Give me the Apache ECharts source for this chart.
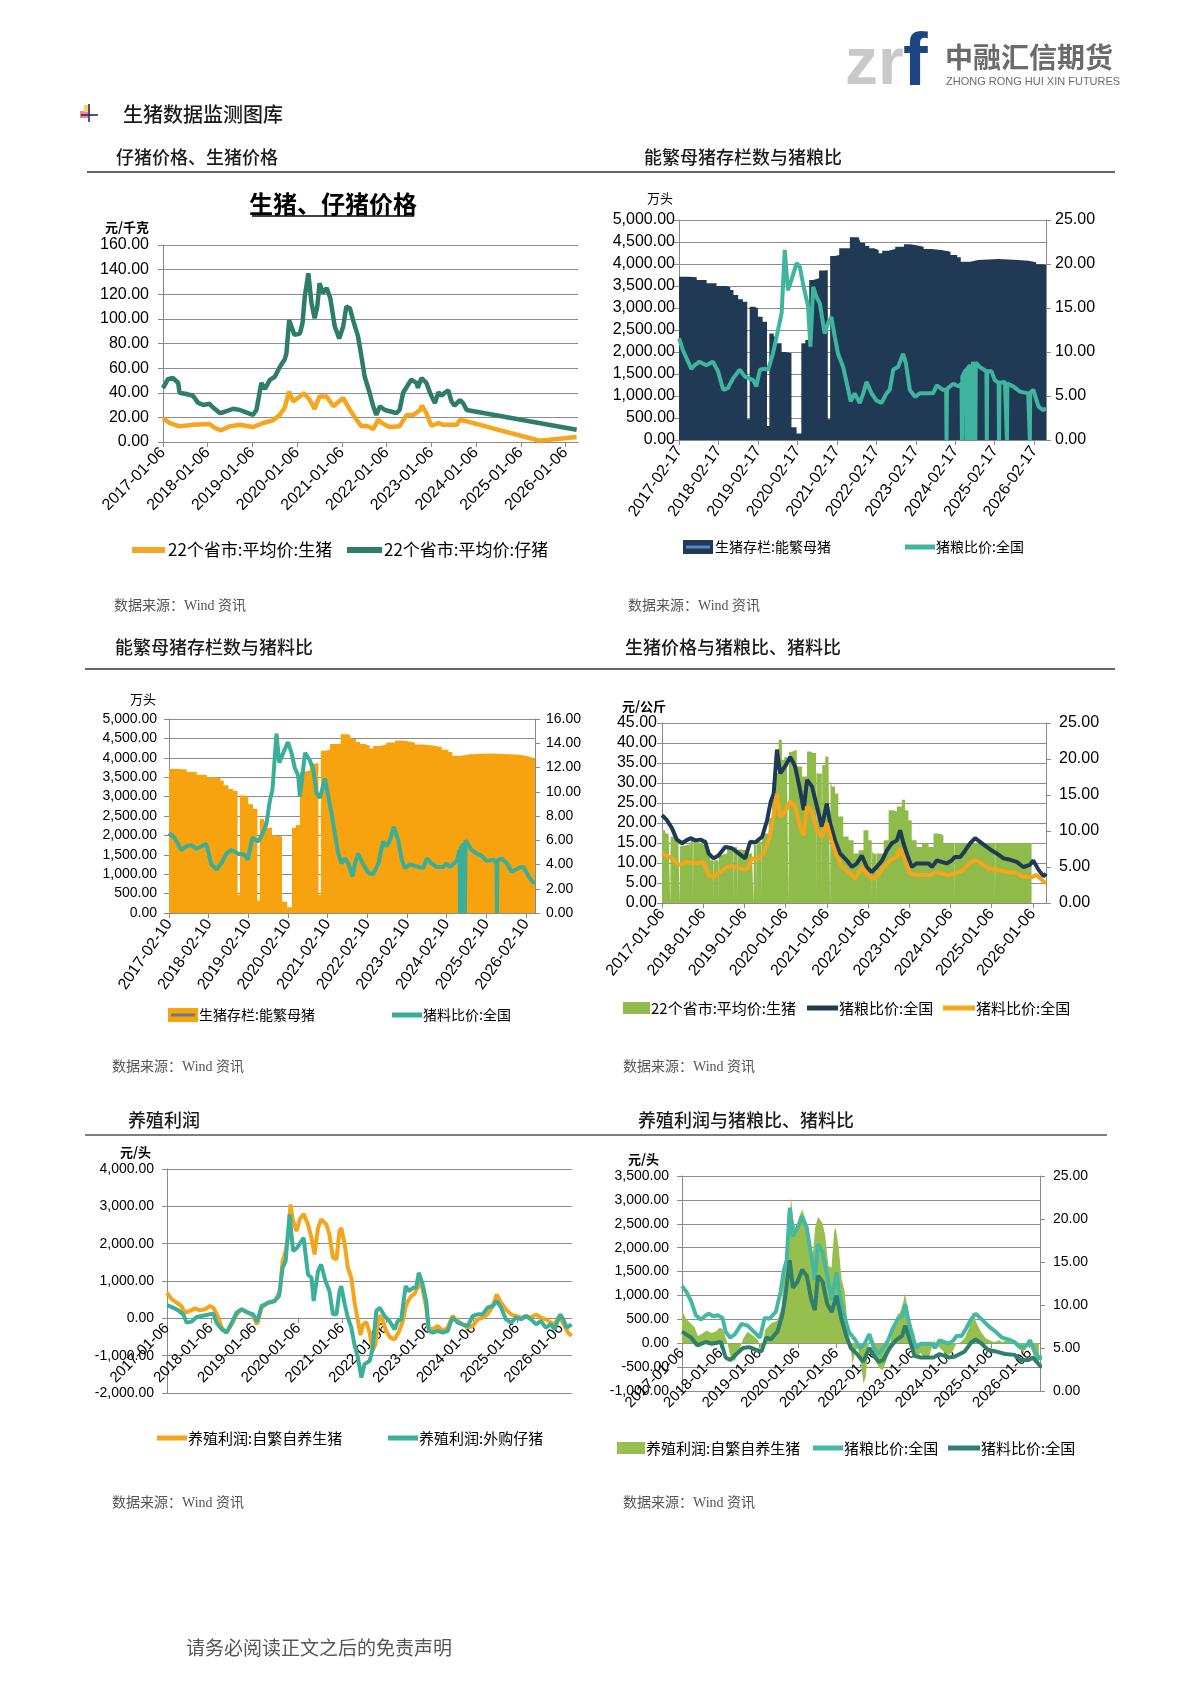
<!DOCTYPE html>
<html><head><meta charset="utf-8">
<script src="https://cdn.jsdelivr.net/npm/echarts@6/dist/echarts.min.js"></script>
<style>html,body{margin:0;padding:0;background:#fff}#c{width:1190px;height:1683px}</style>
</head><body><div id="c"></div>
<script>
// ---------- tick labels ----------
const tickYears = [2017,2018,2019,2020,2021,2022,2023,2024,2025,2026];
const ticksJan06 = ['2017-01-06','2018-01-06','2019-01-06','2020-01-06','2021-01-06','2022-01-06','2023-01-06','2024-01-06','2025-01-06','2026-01-06'];
const ticksFeb17 = ['2017-02-17','2018-02-17','2019-02-17','2020-02-17','2021-02-17','2022-02-17','2023-02-17','2024-02-17','2025-02-17','2026-02-17'];
const ticksFeb10 = ['2017-02-10','2018-02-10','2019-02-10','2020-02-10','2021-02-10','2022-02-10','2023-02-10','2024-02-10','2025-02-10','2026-02-10'];

// ---------- data: [years since first tick (2017 = first tick), value] ----------
const c1Hog = [[2017.0,19.5],[2017.15,15.4],[2017.37,12.7],[2017.67,14],[2018.04,14.6],[2018.16,11.4],[2018.3,9.5],[2018.49,12.7],[2018.72,14],[2019.01,12.2],[2019.24,15.4],[2019.46,17.6],[2019.61,22],[2019.72,27.6],[2019.82,41],[2019.91,33],[2020.06,37],[2020.15,39.7],[2020.28,34.3],[2020.39,26.8],[2020.5,37],[2020.66,37],[2020.81,29],[2021.03,35.7],[2021.18,26],[2021.33,18],[2021.44,12.7],[2021.55,13.2],[2021.7,10.5],[2021.81,18],[2021.92,14.9],[2022.07,12.2],[2022.29,12.7],[2022.45,22],[2022.6,22],[2022.75,26],[2022.79,29.5],[2022.89,23.5],[2023.0,13.2],[2023.16,15.4],[2023.27,14],[2023.57,14],[2023.64,18],[2023.79,16.8],[2025.42,1],[2026.25,4]];
const c1Piglet = [[2017.0,43.8],[2017.11,51],[2017.22,52],[2017.34,48],[2017.37,40],[2017.52,39],[2017.67,37.6],[2017.78,32],[2017.9,30],[2018.04,31],[2018.12,28],[2018.27,23.5],[2018.34,24],[2018.57,27],[2018.72,26],[2018.86,24],[2019.01,22],[2019.09,26],[2019.2,48],[2019.28,43],[2019.39,50.5],[2019.5,53],[2019.61,61],[2019.72,67],[2019.76,72],[2019.82,99],[2019.87,94],[2019.94,87],[2020.06,88],[2020.12,96.5],[2020.17,118],[2020.25,137],[2020.32,113],[2020.39,100.5],[2020.45,110],[2020.5,129],[2020.58,121],[2020.66,125],[2020.74,117],[2020.84,94],[2020.94,84],[2021.03,94],[2021.1,110],[2021.18,108.6],[2021.25,99],[2021.36,86],[2021.44,69],[2021.51,53],[2021.62,40],[2021.7,29],[2021.77,22],[2021.85,29],[2021.96,26],[2022.07,25],[2022.22,23.5],[2022.29,26],[2022.37,40],[2022.48,46.5],[2022.55,50.5],[2022.67,48],[2022.7,44],[2022.78,52],[2022.89,48],[2022.97,40],[2023.08,31.6],[2023.16,40.5],[2023.23,37.6],[2023.3,40],[2023.38,42],[2023.45,33],[2023.52,29.5],[2023.64,34],[2023.71,31.6],[2023.79,26],[2026.25,10]];

const sows = [[2017.0,3712],[2017.25,3697],[2017.45,3636],[2017.7,3560],[2017.95,3500],[2018.2,3470],[2018.3,3410],[2018.38,3295],[2018.5,3197],[2018.62,3144],[2018.73,470],[2018.79,3030],[2018.92,2990],[2019.0,2800],[2019.12,2690],[2019.23,318],[2019.29,2420],[2019.4,2350],[2019.48,2200],[2019.6,2000],[2019.7,1970],[2019.85,290],[2019.98,150],[2020.1,2200],[2020.2,2270],[2020.3,3636],[2020.4,3675],[2020.55,3850],[2020.66,3860],[2020.77,470],[2020.83,4180],[2020.95,4205],[2021.06,4356],[2021.33,4606],[2021.55,4583],[2021.6,4485],[2021.72,4410],[2021.82,4356],[2021.94,4318],[2022.06,4242],[2022.15,4303],[2022.3,4341],[2022.48,4394],[2022.7,4447],[2022.86,4432],[2022.98,4394],[2023.2,4341],[2023.4,4318],[2023.65,4280],[2023.88,4205],[2024.05,4152],[2024.14,4053],[2024.38,4091],[2024.58,4114],[2025.1,4091],[2025.6,4076],[2025.85,4038],[2026.05,3992],[2026.2,3977],[2026.32,3977]];

const c2Grain = [[2017.0,11.55],[2017.1,10.2],[2017.23,8.9],[2017.31,8.1],[2017.4,8.5],[2017.52,8.9],[2017.69,8.5],[2017.86,8.9],[2017.99,7.8],[2018.12,5.7],[2018.24,5.9],[2018.37,7.0],[2018.54,8.0],[2018.67,7.2],[2018.88,6.8],[2018.96,6.1],[2019.05,8.0],[2019.17,8.1],[2019.26,8.0],[2019.38,9.8],[2019.51,12.5],[2019.6,14.4],[2019.68,21.6],[2019.76,17.0],[2019.85,18.2],[2019.98,20.1],[2020.06,19.7],[2020.16,17.4],[2020.27,15.2],[2020.33,10.6],[2020.4,17.4],[2020.48,16.3],[2020.57,15.5],[2020.69,12.1],[2020.78,13.3],[2020.86,14.0],[2020.95,11.7],[2021.03,9.8],[2021.16,8.3],[2021.29,5.7],[2021.35,4.4],[2021.45,5.3],[2021.58,4.2],[2021.67,5.3],[2021.75,6.6],[2021.88,5.3],[2022.0,4.5],[2022.13,4.2],[2022.26,5.3],[2022.34,5.7],[2022.43,8.0],[2022.55,8.3],[2022.68,9.8],[2022.75,8.7],[2022.85,5.7],[2022.98,4.9],[2023.1,5.3],[2023.44,5.3],[2023.53,6.2],[2023.69,5.7],[2023.77,5.7],[2023.78,0],[2023.79,5.8],[2023.95,6.4],[2024.08,6.1],[2024.16,6.4],[2024.17,0],[2024.18,7.2],[2024.27,8.0],[2024.28,0],[2024.29,8.0],[2024.36,8.4],[2024.37,0],[2024.38,8.6],[2024.43,8.8],[2024.44,0],[2024.45,8.9],[2024.5,8.9],[2024.51,0],[2024.52,8.8],[2024.62,8.3],[2024.79,7.8],[2024.8,0],[2024.81,7.8],[2024.92,7.8],[2025.0,6.8],[2025.1,6.5],[2025.11,0],[2025.12,6.5],[2025.26,6.6],[2025.3,6.5],[2025.31,0],[2025.32,6.4],[2025.47,6.1],[2025.64,5.5],[2025.85,5.3],[2025.88,5.3],[2025.89,0],[2025.9,5.4],[2025.98,5.7],[2026.11,3.8],[2026.23,3.4],[2026.3,3.6]];

const c3Feed = [[2017.0,6.6],[2017.14,6.2],[2017.31,5.2],[2017.44,5.5],[2017.56,5.6],[2017.69,5.3],[2017.82,5.5],[2017.94,5.7],[2018.07,4.0],[2018.2,3.6],[2018.32,4.1],[2018.45,4.9],[2018.57,5.2],[2018.74,4.9],[2018.91,4.8],[2018.99,4.4],[2019.1,6.2],[2019.25,5.9],[2019.37,6.6],[2019.46,7.4],[2019.54,9.2],[2019.61,10.2],[2019.71,14.8],[2019.78,12.4],[2019.88,13.2],[2020.0,14.1],[2020.09,13.2],[2020.17,12.0],[2020.26,11.3],[2020.3,9.6],[2020.37,11.5],[2020.43,13.2],[2020.55,12.6],[2020.64,11.8],[2020.72,9.9],[2020.81,9.5],[2020.93,11.1],[2021.02,9.6],[2021.1,8.2],[2021.18,6.6],[2021.27,4.9],[2021.35,4.1],[2021.44,4.5],[2021.52,4.1],[2021.63,3.0],[2021.69,4.1],[2021.77,4.9],[2021.9,4.0],[2022.03,3.3],[2022.15,3.2],[2022.28,4.1],[2022.4,5.9],[2022.49,5.5],[2022.57,6.0],[2022.67,7.1],[2022.78,6.0],[2022.87,4.4],[2022.95,3.7],[2023.08,4.0],[2023.41,3.7],[2023.5,4.5],[2023.62,4.1],[2023.75,3.8],[2023.92,3.8],[2023.99,4.1],[2024.08,3.8],[2024.26,4.3],[2024.33,5.2],[2024.34,0],[2024.36,5.5],[2024.38,0],[2024.4,5.7],[2024.42,0],[2024.44,5.8],[2024.46,0],[2024.48,6.0],[2024.51,6.0],[2024.63,5.2],[2024.76,4.9],[2024.89,4.7],[2025.01,4.3],[2025.18,4.4],[2025.26,4.1],[2025.27,0],[2025.28,4.3],[2025.39,4.5],[2025.52,4.1],[2025.64,3.4],[2025.81,3.7],[2025.94,3.8],[2026.07,3.0],[2026.19,2.5],[2026.23,2.6]];

const c4Hog = [[2017.0,18.2],[2017.08,17.4],[2017.16,17],[2017.2,0],[2017.21,16.6],[2017.28,16.1],[2017.4,14],[2017.43,0],[2017.44,14.3],[2017.53,14.7],[2017.69,15.7],[2017.75,0],[2017.76,15.4],[2017.85,15],[2017.93,15.3],[2018.0,14.5],[2018.09,13.2],[2018.17,10.7],[2018.25,0],[2018.26,10.7],[2018.29,10.7],[2018.37,0],[2018.38,12],[2018.45,12.4],[2018.58,13.6],[2018.74,0],[2018.75,14],[2018.82,0],[2018.83,13.4],[2018.9,13.2],[2019.06,12.4],[2019.18,14],[2019.22,0],[2019.23,14.5],[2019.29,0],[2019.3,15.3],[2019.42,0],[2019.43,16.5],[2019.47,17.4],[2019.59,21.2],[2019.67,25.8],[2019.75,32.4],[2019.83,40.8],[2019.91,35.8],[2019.97,36.5],[2020.03,37.5],[2020.07,0],[2020.08,37.8],[2020.15,38.3],[2020.27,34.1],[2020.4,31.6],[2020.52,37.9],[2020.6,37.5],[2020.68,37.5],[2020.74,0],[2020.75,33],[2020.76,32.4],[2020.88,0],[2020.89,34.5],[2020.96,36.6],[2021.04,36.6],[2021.08,0],[2021.09,31],[2021.12,29.1],[2021.2,27.4],[2021.28,21.6],[2021.4,16.6],[2021.53,15.7],[2021.65,12.4],[2021.77,13.2],[2021.89,18.2],[2022.01,15.7],[2022.09,0],[2022.1,13],[2022.13,12.4],[2022.2,0],[2022.21,12.4],[2022.25,12.4],[2022.38,15.7],[2022.5,23.2],[2022.62,22.8],[2022.7,24.1],[2022.82,25.8],[2022.9,23.2],[2022.98,20.7],[2023.06,15.7],[2023.18,14],[2023.31,14.9],[2023.47,14],[2023.59,17.4],[2023.71,17],[2023.83,14.9],[2024.0,15],[2024.1,0],[2024.11,15],[2025.08,0],[2025.09,15],[2025.97,0]];

const grainRatio = [[2017.0,12.2],[2017.12,11.5],[2017.24,10.4],[2017.36,8.8],[2017.49,8.3],[2017.59,8.7],[2017.69,9.0],[2017.81,8.7],[2017.93,8.8],[2018.05,8.5],[2018.13,6.9],[2018.25,6.2],[2018.37,6.6],[2018.54,7.8],[2018.7,7.6],[2018.86,6.9],[2019.02,6.2],[2019.14,8.5],[2019.26,8.4],[2019.43,9.2],[2019.55,11.5],[2019.64,14.1],[2019.71,15.2],[2019.79,21.3],[2019.87,18.0],[2019.99,19.0],[2020.11,20.3],[2020.23,19.0],[2020.35,15.7],[2020.44,12.9],[2020.52,17.1],[2020.64,16.2],[2020.76,13.4],[2020.88,10.6],[2021.0,13.8],[2021.08,11.1],[2021.2,8.7],[2021.32,6.9],[2021.49,5.9],[2021.61,5.0],[2021.73,5.5],[2021.85,6.6],[2021.97,5.0],[2022.09,4.3],[2022.21,5.0],[2022.34,5.9],[2022.46,7.3],[2022.58,8.3],[2022.7,8.7],[2022.78,10.1],[2022.86,8.3],[2022.94,6.9],[2023.06,5.0],[2023.18,5.5],[2023.47,5.5],[2023.55,5.0],[2023.67,5.9],[2023.91,5.5],[2024.03,5.9],[2024.11,6.4],[2024.24,6.4],[2024.36,7.3],[2024.48,8.3],[2024.6,9.0],[2024.72,8.5],[2024.88,7.8],[2025.0,7.3],[2025.12,6.9],[2025.29,6.2],[2025.45,6.0],[2025.61,5.7],[2025.77,5.0],[2025.93,5.3],[2026.01,5.9],[2026.14,4.6],[2026.26,3.7],[2026.32,4.1]];

const feedRatio = [[2017.0,6.9],[2017.24,6.2],[2017.4,5.3],[2017.61,5.7],[2017.77,5.5],[2018.01,5.7],[2018.13,3.9],[2018.25,3.6],[2018.41,4.3],[2018.58,5.0],[2018.74,5.1],[2018.9,4.8],[2019.06,4.6],[2019.18,6.2],[2019.3,6.0],[2019.47,6.9],[2019.59,8.7],[2019.67,10.8],[2019.79,15.2],[2019.87,12.0],[2019.99,12.7],[2020.11,14.1],[2020.23,13.4],[2020.35,10.6],[2020.44,9.4],[2020.52,13.4],[2020.64,12.7],[2020.76,10.1],[2020.88,9.2],[2021.0,11.1],[2021.12,8.5],[2021.24,6.6],[2021.37,5.0],[2021.53,4.3],[2021.69,3.4],[2021.85,5.0],[2021.97,4.1],[2022.09,3.4],[2022.21,3.6],[2022.38,5.0],[2022.54,5.9],[2022.7,6.4],[2022.78,7.6],[2022.9,5.9],[2023.02,4.1],[2023.18,3.9],[2023.51,3.9],[2023.67,4.3],[2023.91,3.9],[2024.07,4.0],[2024.32,4.6],[2024.48,5.6],[2024.6,6.0],[2024.76,5.5],[2024.92,4.8],[2025.12,4.6],[2025.37,4.3],[2025.61,4.2],[2025.77,3.6],[2025.97,3.6],[2026.09,3.9],[2026.22,3.2],[2026.32,2.7]];

const profitSelf = [[2017.0,686],[2017.11,508],[2017.22,419],[2017.33,330],[2017.41,152],[2017.52,196],[2017.64,267],[2017.75,214],[2017.87,241],[2017.98,330],[2018.06,285],[2018.17,18],[2018.25,-250],[2018.36,-383],[2018.48,-160],[2018.59,107],[2018.7,241],[2018.85,152],[2018.97,62],[2019.06,-160],[2019.16,285],[2019.31,419],[2019.46,463],[2019.58,731],[2019.64,1533],[2019.71,1800],[2019.77,2246],[2019.82,3048],[2019.88,2602],[2019.96,2335],[2020.03,2647],[2020.12,2799],[2020.22,2513],[2020.3,2157],[2020.37,1711],[2020.45,2424],[2020.52,2647],[2020.64,2513],[2020.71,2246],[2020.79,1622],[2020.87,1578],[2020.94,2335],[2020.98,2424],[2021.06,1979],[2021.13,1355],[2021.21,1087],[2021.28,463],[2021.36,-71],[2021.42,-450],[2021.47,-180],[2021.55,-100],[2021.62,-350],[2021.7,-850],[2021.76,-700],[2021.8,-300],[2021.85,80],[2021.93,-50],[2022.0,-330],[2022.1,-520],[2022.2,-560],[2022.3,-350],[2022.38,-100],[2022.45,300],[2022.5,450],[2022.58,600],[2022.65,650],[2022.73,850],[2022.77,1050],[2022.84,750],[2022.92,300],[2022.97,-250],[2023.07,-294],[2023.18,-205],[2023.3,-339],[2023.41,-250],[2023.52,62],[2023.64,-71],[2023.75,-160],[2023.87,-250],[2023.98,-205],[2024.1,-27],[2024.21,18],[2024.32,107],[2024.44,330],[2024.53,642],[2024.63,419],[2024.74,241],[2024.86,107],[2024.97,62],[2025.09,18],[2025.2,62],[2025.31,18],[2025.43,107],[2025.54,18],[2025.65,-27],[2025.77,-116],[2025.85,-205],[2025.92,18],[2026.0,-27],[2026.08,-205],[2026.16,-383],[2026.24,-472]];

const profitBuy = [[2017.0,356],[2017.14,285],[2017.26,214],[2017.37,107],[2017.45,-116],[2017.56,-89],[2017.68,36],[2017.79,62],[2017.9,89],[2017.98,107],[2018.06,125],[2018.13,-116],[2018.25,-294],[2018.36,-383],[2018.48,-116],[2018.59,152],[2018.7,241],[2018.85,152],[2018.97,107],[2019.06,-89],[2019.16,330],[2019.31,419],[2019.46,463],[2019.56,597],[2019.64,1355],[2019.71,1533],[2019.8,2781],[2019.88,1800],[2019.97,1889],[2020.07,2068],[2020.12,2157],[2020.22,1176],[2020.3,1087],[2020.35,463],[2020.45,1266],[2020.52,1444],[2020.62,998],[2020.71,731],[2020.79,107],[2020.87,107],[2020.94,731],[2020.98,865],[2021.06,374],[2021.13,18],[2021.21,-250],[2021.28,-695],[2021.36,-1052],[2021.44,-1586],[2021.51,-1230],[2021.63,-1141],[2021.7,-784],[2021.78,196],[2021.86,285],[2021.97,62],[2022.08,-71],[2022.2,-294],[2022.27,-71],[2022.35,-27],[2022.45,865],[2022.52,731],[2022.62,820],[2022.69,820],[2022.75,1221],[2022.84,909],[2022.92,463],[2022.98,-339],[2023.07,-383],[2023.18,-339],[2023.3,-383],[2023.41,-339],[2023.52,18],[2023.64,-116],[2023.75,-160],[2023.87,-205],[2023.98,62],[2024.1,107],[2024.21,107],[2024.32,285],[2024.44,330],[2024.53,463],[2024.63,285],[2024.74,-27],[2024.86,-116],[2024.97,18],[2025.09,-27],[2025.2,62],[2025.31,-27],[2025.43,-160],[2025.54,-71],[2025.65,-250],[2025.77,-160],[2025.85,-294],[2025.98,107],[2026.05,-27],[2026.13,-250],[2026.24,-160]];

// ---------- helpers ----------
const NUM_FONT = "'Liberation Sans', Arial, sans-serif";
const CJK_FONT = "'Noto Sans CJK SC', 'Noto Sans', sans-serif";
const SRC_FONT = "'Liberation Serif', 'Noto Sans CJK SC', serif";
const fmt2 = v => Number(v).toLocaleString('en-US', {minimumFractionDigits: 2, maximumFractionDigits: 2});
const AX = '#8a8a8a';

function xAx(grid, labels, max, rot, fs, opts) {
  opts = opts || {};
  return {
    type: 'value', gridIndex: grid, min: 2017, max: max, interval: 1,
    axisLine: {show: opts.line !== false, onZero: false, lineStyle: {color: AX, width: 1}},
    axisTick: {show: opts.labels !== false, length: 5, customValues: tickYears, lineStyle: {color: AX}},
    axisLabel: {
      show: opts.labels !== false,
      customValues: tickYears, rotate: rot, fontSize: fs, color: '#000', fontFamily: NUM_FONT, margin: 8,
      formatter: v => { const r = Math.round(v); return Math.abs(v - r) < 1e-6 && labels[r - 2017] ? labels[r - 2017] : ''; }
    },
    splitLine: {show: false}
  };
}
function yAx(grid, min, max, interval, fs, pos, split, margin) {
  return {
    type: 'value', gridIndex: grid, min: min, max: max, interval: interval, position: pos,
    axisLine: {show: true, onZero: false, lineStyle: {color: AX}},
    axisTick: {show: true, length: 5, lineStyle: {color: AX}},
    axisLabel: {fontSize: fs, color: '#000', fontFamily: NUM_FONT, margin: margin, formatter: fmt2},
    splitLine: {show: split, lineStyle: {color: '#8c8c8c', width: 1}}
  };
}
function hiddenY(grid) {
  return {type: 'value', gridIndex: grid, min: 0, max: 1, show: false};
}
function lineS(name, data, xi, yi, color, w, z) {
  return {type: 'line', name, data, xAxisIndex: xi, yAxisIndex: yi, showSymbol: false, symbol: 'none',
    lineStyle: {color, width: w}, itemStyle: {color}, z: z || 3, silent: true};
}
function areaS(name, data, xi, yi, color, step) {
  return {type: 'line', name, data, xAxisIndex: xi, yAxisIndex: yi, showSymbol: false, symbol: 'none', step: step,
    lineStyle: {width: 0, color}, itemStyle: {color}, areaStyle: {color, opacity: 1}, z: 2, silent: true};
}
function T(text, x, y, size, opts) {
  opts = opts || {};
  return {type: 'text', x, y, silent: true, z: 100, style: {
    text, fill: opts.color || '#1a1a1a', fontSize: size, fontFamily: opts.font || CJK_FONT,
    fontWeight: opts.weight || 'normal', align: opts.align || 'left', verticalAlign: 'middle'}};
}
function L(x1, y1, x2, y2, color, w) {
  return {type: 'line', silent: true, z: 100, shape: {x1, y1, x2, y2}, style: {stroke: color, lineWidth: w}};
}
function R(x, y, w, h, color) {
  return {type: 'rect', silent: true, z: 100, shape: {x, y, width: w, height: h}, style: {fill: color}};
}

// ---------- colours ----------
const C = {
  orange1: '#F5A51E', green1: '#2E7D6B',
  navy: '#203A55', teal2: '#3FB59F',
  orange3: '#F6A30F', teal3: '#39AE98',
  olive: '#8FBB4B', orange4: '#F8A41A',
  orange5: '#F5A51B', teal5: '#3BAF99',
  olive6: '#96BF4D', teal6: '#44B8A2', dgreen6: '#2E7F6C'
};
const SEC = {weight: 500, color: '#1a1a1a'};
const LEG = {color: '#000'};
const SRC = {color: '#555', font: SRC_FONT};

const graphics = [
  // logo
  T('zr', 845, 66, 66, {font: NUM_FONT, weight: 'bold', color: '#C9C9C9'}),
  T('f', 903, 65, 74, {font: NUM_FONT, weight: 'bold', color: '#1D4584'}),
  T('中融汇信期货', 945, 57, 28, {weight: 'bold', color: '#6B6B6B'}),
  T('ZHONG RONG HUI XIN FUTURES', 946, 82, 11, {font: NUM_FONT, color: '#6B6B6B'}),
  // header icon + title
  R(80, 111, 8, 7, '#F08A8A'), R(84, 105, 6, 7, '#F3D46A'),
  L(89, 104, 89, 122, '#1F2A7A', 1.6), L(81, 115, 98, 115, '#1F2A7A', 1.6),
  T('生猪数据监测图库', 123, 114, 20, SEC),
  // section titles & rules
  T('仔猪价格、生猪价格', 116, 157, 18, SEC), T('能繁母猪存栏数与猪粮比', 644, 157, 18, SEC),
  L(87, 172, 600, 172, '#333', 1.5), L(600, 172, 1115, 172, '#333', 1.5),
  T('能繁母猪存栏数与猪料比', 115, 647, 18, SEC), T('生猪价格与猪粮比、猪料比', 625, 647, 18, SEC),
  L(85, 669, 600, 669, '#333', 1.5), L(600, 669, 1115, 669, '#333', 1.5),
  T('养殖利润', 128, 1120, 18, SEC), T('养殖利润与猪粮比、猪料比', 638, 1120, 18, SEC),
  L(85, 1135, 600, 1135, '#555', 1.5), L(600, 1135, 1107, 1135, '#555', 1.5),
  // chart 1 title
  T('生猪、仔猪价格', 333, 204, 24, {weight: 'bold', align: 'center', color: '#000'}),
  L(252, 216, 414, 216, '#000', 1.5),
  // unit labels
  T('元/千克', 105, 227, 13, {weight: 'bold', color: '#000'}),
  T('万头', 647, 198, 13, {color: '#000'}),
  T('万头', 130, 699, 13, {color: '#000'}),
  T('元/公斤', 622, 706, 13, {weight: 'bold', color: '#000'}),
  T('元/头', 120, 1152, 13, {weight: 'bold', color: '#000'}),
  T('元/头', 628, 1159, 13, {weight: 'bold', color: '#000'}),
  // legends chart 1
  L(132, 550, 165, 550, C.orange1, 6), T('22个省市:平均价:生猪', 168, 550, 17, LEG),
  L(347, 550, 382, 550, C.green1, 6), T('22个省市:平均价:仔猪', 384, 550, 17, LEG),
  // chart 2
  R(683, 540, 30, 14, C.navy), L(686, 547, 710, 547, '#5B84C4', 3), T('生猪存栏:能繁母猪', 715, 547, 14, LEG),
  L(905, 547, 935, 547, C.teal2, 5), T('猪粮比价:全国', 936, 547, 14, LEG),
  // chart 3
  R(168, 1008, 30, 14, C.orange3), L(171, 1015, 195, 1015, '#6B7B8C', 3), T('生猪存栏:能繁母猪', 199, 1015, 14, LEG),
  L(392, 1015, 422, 1015, C.teal3, 5), T('猪料比价:全国', 423, 1015, 14, LEG),
  // chart 4
  R(623, 1002, 27, 12, C.olive), T('22个省市:平均价:生猪', 651, 1008, 15, LEG),
  L(807, 1008, 838, 1008, C.navy, 5), T('猪粮比价:全国', 839, 1008, 15, LEG),
  L(943, 1008, 975, 1008, C.orange4, 5), T('猪料比价:全国', 976, 1008, 15, LEG),
  // chart 5
  L(157, 1438, 187, 1438, C.orange5, 5), T('养殖利润:自繁自养生猪', 188, 1438, 15, LEG),
  L(388, 1438, 418, 1438, C.teal5, 5), T('养殖利润:外购仔猪', 419, 1438, 15, LEG),
  // chart 6
  R(617, 1442, 28, 12, C.olive6), T('养殖利润:自繁自养生猪', 646, 1448, 15, LEG),
  L(813, 1448, 843, 1448, C.teal6, 5), T('猪粮比价:全国', 844, 1448, 15, LEG),
  L(948, 1448, 980, 1448, C.dgreen6, 5), T('猪料比价:全国', 981, 1448, 15, LEG),
  // sources
  T('数据来源：Wind 资讯', 114, 606, 14, SRC),
  T('数据来源：Wind 资讯', 628, 606, 14, SRC),
  T('数据来源：Wind 资讯', 112, 1067, 14, SRC),
  T('数据来源：Wind 资讯', 623, 1067, 14, SRC),
  T('数据来源：Wind 资讯', 112, 1503, 14, SRC),
  T('数据来源：Wind 资讯', 623, 1503, 14, SRC),
  // footer
  T('请务必阅读正文之后的免责声明', 186, 1650, 19, SRC)
];

const option = {
  animation: false,
  backgroundColor: '#fff',
  textStyle: {fontFamily: NUM_FONT},
  grid: [
    {left: 163, top: 245, width: 415, height: 197},
    {left: 679, top: 220, width: 367, height: 220},
    {left: 169, top: 719, width: 366, height: 194},
    {left: 662, top: 723, width: 384, height: 180},
    {left: 167, top: 1169, width: 405, height: 224},
    {left: 682, top: 1176, width: 358, height: 215},
    // label carriers for the profit charts: bottom edge sits on the zero line
    {left: 167, top: 1169, width: 405, height: 149},
    {left: 682, top: 1176, width: 358, height: 167}
  ],
  xAxis: [
    xAx(0, ticksJan06, 2026.28, 45, 16),
    xAx(1, ticksFeb17, 2026.30, 55, 16),
    xAx(2, ticksFeb10, 2026.23, 55, 16),
    xAx(3, ticksJan06, 2026.32, 50, 16),
    xAx(4, ticksJan06, 2026.25, 45, 15, {labels: false, line: false}),
    xAx(5, ticksJan06, 2026.27, 45, 15, {labels: false, line: false}),
    xAx(6, ticksJan06, 2026.25, 45, 15, {line: false}),
    xAx(7, ticksJan06, 2026.27, 45, 15, {line: false})
  ],
  yAxis: [
    yAx(0, 0, 160, 20, 16, 'left', true, 14),
    yAx(1, 0, 5000, 500, 16, 'left', true, 4),
    yAx(1, 0, 25, 5, 16, 'right', false, 9),
    yAx(2, 0, 5000, 500, 14, 'left', true, 12),
    yAx(2, 0, 16, 2, 14, 'right', false, 11),
    yAx(3, 0, 45, 5, 16, 'left', true, 5),
    yAx(3, 0, 25, 5, 16, 'right', false, 13),
    yAx(4, -2000, 4000, 1000, 14, 'left', true, 13),
    yAx(5, -1000, 3500, 500, 14, 'left', true, 13),
    yAx(5, 0, 25, 5, 14, 'right', false, 13),
    hiddenY(6),
    hiddenY(7)
  ],
  series: [
    lineS('22个省市:平均价:生猪', c1Hog, 0, 0, C.orange1, 4.5),
    lineS('22个省市:平均价:仔猪', c1Piglet, 0, 0, C.green1, 4.5),

    areaS('生猪存栏:能繁母猪', sows, 1, 1, C.navy, 'end'),
    lineS('猪粮比价:全国', c2Grain, 1, 2, C.teal2, 4),

    areaS('生猪存栏:能繁母猪 ', sows, 2, 3, C.orange3, 'end'),
    lineS('猪料比价:全国', c3Feed, 2, 4, C.teal3, 4),

    areaS('22个省市:平均价:生猪 ', c4Hog, 3, 5, C.olive, 'end'),
    lineS('猪粮比价:全国 ', grainRatio, 3, 6, C.navy, 4),
    lineS('猪料比价:全国 ', feedRatio, 3, 6, C.orange4, 4),

    lineS('养殖利润:自繁自养生猪', profitSelf, 4, 7, C.orange5, 4),
    lineS('养殖利润:外购仔猪', profitBuy, 4, 7, C.teal5, 4, 4),

    areaS('养殖利润:自繁自养生猪 ', profitSelf, 5, 8, C.olive6),
    lineS('猪粮比价:全国  ', grainRatio, 5, 9, C.teal6, 4),
    lineS('猪料比价:全国  ', feedRatio, 5, 9, C.dgreen6, 4, 4)
  ],
  graphic: graphics
};

const chart = echarts.init(document.getElementById('c'), null, {width: 1190, height: 1683});
chart.setOption(option);
</script></body></html>
